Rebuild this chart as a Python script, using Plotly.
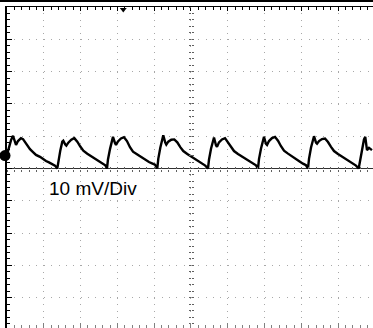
import plotly.graph_objects as go

# ---- data (time in divisions, voltage in mV; 10 mV/Div) ----
t_c1 = [0.000, 0.054, 0.109, 0.163, 0.217, 0.245, 0.299, 0.380, 0.435, 0.516, 0.625, 0.707, 0.788, 0.897, 0.978, 1.060, 1.141, 1.223, 1.304]
v_c1 = [4.2, 6.7, 8.8, 10.1, 7.9, 7.3, 8.5, 9.4, 9.1, 7.6, 6.0, 5.1, 4.2, 3.6, 2.9, 2.3, 1.9, 1.4, 0.9]

t_c2 = [1.367, 1.394, 1.449, 1.503, 1.530, 1.584, 1.612, 1.666, 1.747, 1.829, 1.910, 1.992, 2.074, 2.182, 2.264, 2.345, 2.427, 2.508, 2.590, 2.671]
v_c2 = [0.0, 2.4, 5.6, 8.3, 8.6, 7.4, 7.1, 8.0, 8.9, 9.4, 8.3, 6.8, 5.5, 4.6, 4.0, 3.3, 2.7, 2.1, 1.6, 1.0]

t_c3 = [2.717, 2.744, 2.799, 2.853, 2.880, 2.934, 2.962, 3.016, 3.097, 3.179, 3.260, 3.342, 3.424, 3.532, 3.614, 3.695, 3.777, 3.858, 3.940, 4.021]
v_c3 = [0.0, 2.8, 6.0, 9.2, 9.8, 7.9, 7.3, 8.4, 9.3, 9.7, 8.5, 6.6, 5.2, 4.4, 3.8, 3.2, 2.5, 2.0, 1.6, 1.2]

t_c4 = [4.084, 4.111, 4.166, 4.220, 4.247, 4.301, 4.329, 4.383, 4.464, 4.546, 4.627, 4.709, 4.791, 4.899, 4.981, 5.062, 5.144, 5.225, 5.307, 5.388]
v_c4 = [0.0, 3.0, 6.4, 9.6, 10.3, 8.0, 7.4, 8.3, 8.9, 9.0, 8.1, 6.6, 5.4, 4.5, 3.9, 3.3, 2.6, 2.1, 1.5, 0.9]

t_c5 = [5.462, 5.489, 5.544, 5.598, 5.625, 5.679, 5.707, 5.761, 5.842, 5.924, 6.005, 6.087, 6.169, 6.277, 6.359, 6.440, 6.522, 6.603, 6.685, 6.766]
v_c5 = [0.0, 2.7, 6.1, 9.1, 9.6, 7.2, 6.7, 8.1, 9.0, 9.4, 8.2, 6.7, 5.4, 4.5, 3.9, 3.2, 2.6, 2.0, 1.5, 1.0]

t_c6 = [6.821, 6.848, 6.903, 6.957, 6.984, 7.038, 7.066, 7.120, 7.201, 7.283, 7.364, 7.446, 7.528, 7.636, 7.718, 7.799, 7.881, 7.962, 8.044, 8.125]
v_c6 = [0.0, 2.9, 6.2, 9.3, 9.8, 7.6, 7.3, 8.5, 9.4, 9.8, 8.6, 6.9, 5.5, 4.6, 3.9, 3.3, 2.7, 2.1, 1.5, 1.0]

t_c7 = [8.180, 8.207, 8.262, 8.316, 8.343, 8.397, 8.425, 8.479, 8.560, 8.642, 8.723, 8.805, 8.887, 8.995, 9.077, 9.158, 9.240, 9.321, 9.403, 9.484]
v_c7 = [0.0, 3.0, 6.5, 9.5, 10.0, 8.0, 7.7, 8.5, 9.1, 9.3, 8.2, 6.7, 5.4, 4.5, 3.9, 3.3, 2.6, 2.0, 1.5, 0.9]

t_c8 = [9.557, 9.592, 9.647, 9.701, 9.736, 9.783, 9.837, 9.918]
v_c8 = [0.0, 2.5, 6.0, 9.0, 9.8, 5.7, 6.4, 5.7]

time_div = t_c1 + t_c2 + t_c3 + t_c4 + t_c5 + t_c6 + t_c7 + t_c8
ripple_mv = v_c1 + v_c2 + v_c3 + v_c4 + v_c5 + v_c6 + v_c7 + v_c8

scale_label = "10 mV/Div"
ground_marker = (-0.054, 4.0)
trigger_marker = (3.16, 49.2)

# ---- layout geometry ----
W, H = 373, 328
LEFT, TOP = 7, 7
X_RANGE = [0, 9.946]
Y_RANGE = [-49.38, 50]
xdom = [LEFT / W, 1]
ydom = [0, (H - TOP) / H]
# overlay axes spanning the whole figure, aligned with the main axes
x_per_px = (X_RANGE[1] - X_RANGE[0]) / (W - LEFT)
y_per_px = (Y_RANGE[1] - Y_RANGE[0]) / (H - TOP)
X_FULL = [X_RANGE[0] - LEFT * x_per_px, X_RANGE[1]]
Y_FULL = [Y_RANGE[0], Y_RANGE[1] + TOP * y_per_px]
y_zero_pos = ydom[0] + (0 - Y_RANGE[0]) / (Y_RANGE[1] - Y_RANGE[0]) * (ydom[1] - ydom[0])
x_mid_pos = xdom[0] + (5 - X_RANGE[0]) / (X_RANGE[1] - X_RANGE[0]) * (xdom[1] - xdom[0])

fig = go.Figure()

# axes-creating dummy traces
for xa, ya in [("x2", "y"), ("x3", "y"), ("x4", "y"), ("x", "y2"), ("x", "y3")]:
    fig.add_trace(go.Scatter(x=[None], y=[None], xaxis=xa, yaxis=ya,
                             mode="markers", showlegend=False, hoverinfo="skip"))

fig.add_trace(go.Scatter(x=time_div, y=ripple_mv, mode="lines",
                         line=dict(color="black", width=2.4),
                         showlegend=False, hoverinfo="skip"))

fig.add_trace(go.Scatter(x=[ground_marker[0]], y=[ground_marker[1]], mode="markers",
                         xaxis="x5", yaxis="y5",
                         marker=dict(symbol="circle", size=11, color="black"),
                         cliponaxis=False, showlegend=False, hoverinfo="skip"))
fig.add_trace(go.Scatter(x=[trigger_marker[0]], y=[trigger_marker[1]], mode="markers",
                         xaxis="x5", yaxis="y5",
                         marker=dict(symbol="triangle-down", size=6, color="black"),
                         cliponaxis=False, showlegend=False, hoverinfo="skip"))

grid_color = "#a8a8a8"
tick_dark = "#606060"
hidden = dict(showline=False, showgrid=False, zeroline=False, showticklabels=False, ticks="")

fig.update_layout(
    width=W, height=H, autosize=False,
    margin=dict(l=0, r=0, t=0, b=0, pad=0),
    paper_bgcolor="white", plot_bgcolor="rgba(0,0,0,0)",
    showlegend=False,
    xaxis=dict(range=X_RANGE, domain=xdom, side="top", showline=True, linecolor="black", linewidth=1,
               ticks="inside", ticklen=4, tickcolor="black", dtick=1, tick0=0,
               minor=dict(dtick=0.2, ticklen=3, tickcolor="black", ticks="inside", showgrid=False),
               showticklabels=False, showgrid=True, gridcolor=grid_color, gridwidth=1,
               griddash="1px,5.46px", zeroline=False),
    yaxis=dict(range=Y_RANGE, domain=ydom, showline=True, linecolor="black", linewidth=2,
               ticks="inside", ticklen=5, tickcolor="black", dtick=10, tick0=0,
               minor=dict(dtick=2, ticklen=3, tickcolor="black", ticks="inside", showgrid=False),
               showticklabels=False, showgrid=True, gridcolor=grid_color, gridwidth=1,
               griddash="1px,6.36px", zeroline=True, zerolinecolor="#303030", zerolinewidth=1),
    xaxis2=dict(range=X_RANGE, overlaying="x", anchor="free", position=y_zero_pos,
                side="bottom", showline=False, ticks="outside", ticklen=2, tickcolor=tick_dark,
                dtick=1, tick0=0, minor=dict(dtick=0.2, ticklen=2, tickcolor=tick_dark, ticks="outside"),
                showticklabels=False, showgrid=False, zeroline=False),
    xaxis3=dict(range=X_RANGE, overlaying="x", anchor="free", position=y_zero_pos,
                side="bottom", showline=False, ticks="inside", ticklen=2, tickcolor=tick_dark,
                dtick=1, tick0=0, minor=dict(dtick=0.2, ticklen=2, tickcolor=tick_dark, ticks="inside"),
                showticklabels=False, showgrid=False, zeroline=False),
    xaxis4=dict(range=X_RANGE, overlaying="x", anchor="free", position=0,
                side="bottom", showline=False, ticks="inside", ticklen=5, tickcolor="#808080",
                dtick=1, tick0=0, minor=dict(dtick=0.2, ticklen=3, tickcolor="#808080", ticks="inside"),
                showticklabels=False, showgrid=False, zeroline=False),
    yaxis2=dict(range=Y_RANGE, overlaying="y", anchor="free", position=x_mid_pos,
                side="left", showline=False, ticks="outside", ticklen=2, tickcolor=tick_dark,
                dtick=10, tick0=0, minor=dict(dtick=2, ticklen=2, tickcolor=tick_dark, ticks="outside"),
                showticklabels=False, showgrid=False, zeroline=False),
    yaxis3=dict(range=Y_RANGE, overlaying="y", anchor="free", position=x_mid_pos,
                side="left", showline=False, ticks="inside", ticklen=2, tickcolor=tick_dark,
                dtick=10, tick0=0, minor=dict(dtick=2, ticklen=2, tickcolor=tick_dark, ticks="inside"),
                showticklabels=False, showgrid=False, zeroline=False),
    xaxis5=dict(range=X_FULL, domain=[0, 1], anchor="y5", **hidden),
    yaxis5=dict(range=Y_FULL, domain=[0, 1], anchor="x5", **hidden),
    annotations=[dict(x=1.09, y=-6.25, xref="x", yref="y", text=scale_label, showarrow=False,
                      xanchor="left", yanchor="middle",
                      font=dict(family="Arial, Liberation Sans, sans-serif", size=19, color="black"))],
    shapes=[dict(type="line", xref="paper", yref="paper", x0=0, x1=1,
                 y0=1 - 1 / H, y1=1 - 1 / H, line=dict(color="black", width=2))],
)

fig.write_html("out.html", config={"staticPlot": True},
               post_script="document.body.style.margin='0';document.body.style.overflow='hidden';")
